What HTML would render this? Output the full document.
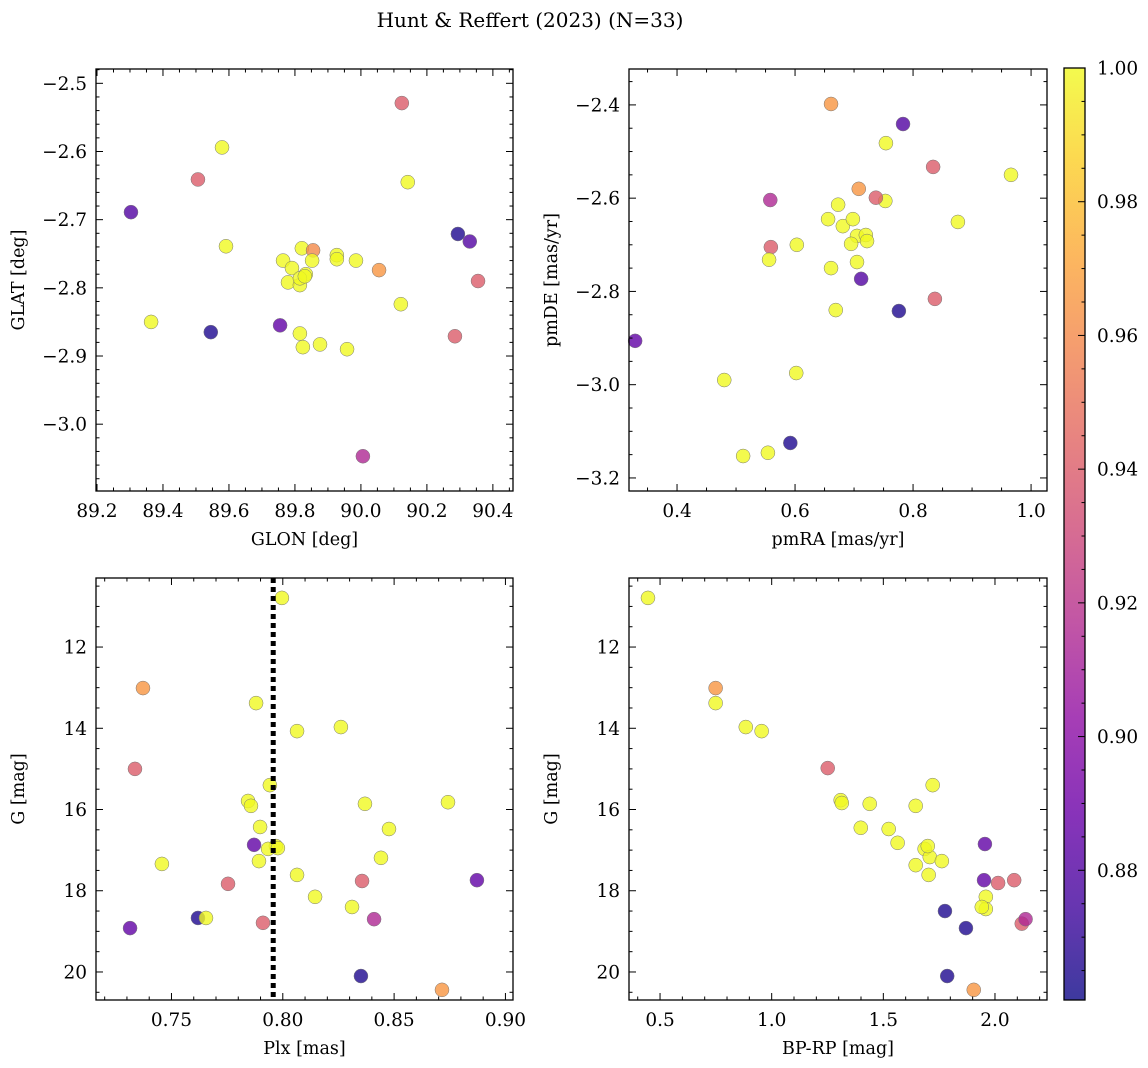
<!DOCTYPE html>
<html><head><meta charset="utf-8"><style>
html,body{margin:0;padding:0;background:#fff}
svg{display:block}
text{font-family:"DejaVu Serif","Liberation Serif",serif}
</style></head><body>
<svg id="fig" width="1148" height="1068" viewBox="0 0 1148 1068" xmlns="http://www.w3.org/2000/svg" font-family="DejaVu Serif, Liberation Serif, serif">
<defs>
<linearGradient id="cbg" x1="0" y1="1" x2="0" y2="0">
<stop offset="0" stop-color="#0d0887"/><stop offset="0.1" stop-color="#41049d"/><stop offset="0.2" stop-color="#6a00a8"/><stop offset="0.3" stop-color="#8f0da4"/><stop offset="0.4" stop-color="#b12a90"/><stop offset="0.5" stop-color="#cc4778"/><stop offset="0.6" stop-color="#e16462"/><stop offset="0.7" stop-color="#f2844b"/><stop offset="0.8" stop-color="#fca636"/><stop offset="0.9" stop-color="#fcce25"/><stop offset="1" stop-color="#f0f921"/>
</linearGradient>
</defs>
<text x="530" y="27" font-size="20" text-anchor="middle" font-family="DejaVu Serif, Liberation Serif, serif">Hunt &amp; Reffert (2023) (N=33)</text>
</svg>
<script>
// Panel A: GLON vs GLAT
const glon=[89.303,89.506,89.579,89.364,89.545,89.591,89.755,89.764,89.791,89.779,89.815,89.821,89.833,89.855,89.852,89.815,89.824,89.876,89.927,89.927,89.985,89.958,90.055,90.121,90.142,90.006,90.294,90.330,90.355,90.285,90.124,89.815,89.830];
const glat=[-2.689,-2.641,-2.594,-2.850,-2.865,-2.739,-2.855,-2.760,-2.771,-2.792,-2.796,-2.742,-2.780,-2.745,-2.760,-2.867,-2.887,-2.883,-2.752,-2.758,-2.760,-2.890,-2.774,-2.824,-2.645,-3.047,-2.721,-2.732,-2.790,-2.871,-2.529,-2.786,-2.783];
const probA=[0.88,0.94,1,1,0.865,1,0.885,1,1,1,1,1,1,0.96,1,1,1,1,1,1,1,1,0.965,1,1,0.915,0.865,0.88,0.94,0.94,0.94,1,1];
// Panel B: pmRA vs pmDE
const pmra=[0.661,0.783,0.754,0.966,0.834,0.708,0.753,0.737,0.673,0.558,0.656,0.681,0.698,0.705,0.720,0.722,0.705,0.603,0.559,0.661,0.876,0.712,0.556,0.669,0.776,0.837,0.329,0.480,0.602,0.592,0.512,0.554,0.695];
const pmde=[-2.398,-2.441,-2.482,-2.550,-2.533,-2.580,-2.606,-2.599,-2.614,-2.604,-2.645,-2.660,-2.645,-2.681,-2.679,-2.692,-2.737,-2.700,-2.705,-2.750,-2.651,-2.773,-2.732,-2.840,-2.842,-2.816,-2.906,-2.990,-2.975,-3.125,-3.153,-3.146,-2.698];
const probB=[0.965,0.88,1,1,0.94,0.965,1,0.94,1,0.915,1,1,1,1,1,1,1,1,0.94,1,1,0.88,1,1,0.865,0.94,0.885,1,1,0.865,1,1,1];
// Panel C: Plx vs G
const plx=[0.7996,0.7372,0.7880,0.8064,0.8261,0.7336,0.7942,0.7844,0.7857,0.8742,0.8369,0.7898,0.8477,0.7871,0.7969,0.7934,0.7893,0.7457,0.8441,0.8064,0.7754,0.8356,0.8872,0.8145,0.8311,0.7619,0.7655,0.8410,0.7911,0.7314,0.8351,0.8715,0.7978];
const gC=[10.79,13.01,13.38,14.07,13.97,15.00,15.40,15.79,15.91,15.82,15.86,16.43,16.48,16.87,16.90,16.97,17.27,17.34,17.19,17.61,17.83,17.76,17.74,18.15,18.40,18.67,18.67,18.70,18.79,18.92,20.10,20.44,16.95];
const probC=[1,0.965,1,1,1,0.94,1,1,1,1,1,1,1,0.885,1,1,1,1,1,1,0.94,0.94,0.885,1,1,0.865,1,0.915,0.94,0.885,0.865,0.965,1];
const plxRef=0.7957;
// Panel D: BP-RP vs G
const bprp=[0.446,0.749,0.749,0.884,0.955,1.251,1.309,1.314,1.439,1.399,1.524,1.564,1.645,1.721,1.685,1.708,1.762,1.645,1.699,1.703,1.955,1.951,2.014,2.086,1.959,1.959,1.941,2.12,2.137,1.87,1.776,1.905,1.786];
const gD=[10.79,13.01,13.38,13.97,14.07,14.98,15.77,15.84,15.86,16.45,16.48,16.82,15.91,15.40,16.97,17.17,17.27,17.37,16.90,17.61,16.85,17.74,17.81,17.74,18.15,18.45,18.40,18.81,18.70,18.92,18.50,20.44,20.10];
const probD=[1,0.965,1,1,1,0.94,1,1,1,1,1,1,1,1,1,1,1,1,1,1,0.885,0.885,0.94,0.94,1,1,1,0.94,0.915,0.865,0.865,0.965,0.865];
const cbTicks=[0.88,0.90,0.92,0.94,0.96,0.98,1.00];

const NS="http://www.w3.org/2000/svg";
const FONT="DejaVu Serif, Liberation Serif, serif";
const TFS=18.5;
const svg=document.getElementById('fig');
const VMIN=0.8606,VMAX=1.0;
const stops=["#0d0887","#41049d","#6a00a8","#8f0da4","#b12a90","#cc4778","#e16462","#f2844b","#fca636","#fcce25","#f0f921"];
function hex(h){return[parseInt(h.substr(1,2),16),parseInt(h.substr(3,2),16),parseInt(h.substr(5,2),16)];}
function cmap(v){let t=(v-VMIN)/(VMAX-VMIN);t=Math.max(0,Math.min(1,t));const s=t*10,i=Math.min(9,Math.floor(s)),f=s-i;const a=hex(stops[i]),b=hex(stops[i+1]);return 'rgb('+a.map((x,k)=>Math.round(x+(b[k]-x)*f)).join(',')+')';}
function mk(tag,attrs,parent){const e=document.createElementNS(NS,tag);for(const k in attrs)e.setAttribute(k,attrs[k]);if(tag==='text')e.setAttribute('font-family',FONT);(parent||svg).appendChild(e);return e;}
function fmt(v,d){const s=Math.abs(v).toFixed(d);return (v<-1e-9?'\u2212':'')+s;}

function panel(c){
  const g=mk('g',{});
  
  
  const X=v=>c.L+(v-c.x0)/(c.x1-c.x0)*(c.R-c.L);
  const Y=c.yrev? v=>c.T+(v-c.y0)/(c.y1-c.y0)*(c.B-c.T) : v=>c.B-(v-c.y0)/(c.y1-c.y0)*(c.B-c.T);
  const pg=mk('g',{},g);
  
  
  for(let i=0;i<c.xs.length;i++){
    const p=mk('circle',{cx:X(c.xs[i]),cy:Y(c.ys[i]),r:7,fill:cmap(c.ps[i]),'fill-opacity':0.8,stroke:'#777','stroke-width':0.5},pg);
    
    
  }
  if(c.vline!==undefined){
    const l=mk('line',{x1:X(c.vline),x2:X(c.vline),y1:c.T,y2:c.B,stroke:'#000','stroke-width':5,'stroke-dasharray':'5 4'},g);
    
    
  }
  const f=mk('rect',{x:c.L,y:c.T,width:c.R-c.L,height:c.B-c.T,fill:'none',stroke:'#000','stroke-width':1.3},g);
  
  
  const tk=mk('g',{stroke:'#000','stroke-width':1},g);
  const xs0=Math.ceil(c.x0/c.xmin-1e-6);
  for(let k=xs0;k*c.xmin<=c.x1+1e-9;k++){
    const v=k*c.xmin,px=X(v);
    const major=Math.abs(v/c.xmaj-Math.round(v/c.xmaj))<1e-6;
    const len=major?7:3.5;
    mk('line',{x1:px,x2:px,y1:c.B,y2:c.B-len},tk);
    mk('line',{x1:px,x2:px,y1:c.T,y2:c.T+len},tk);
    if(major){const t=mk('text',{x:px,y:c.B+26,'font-size':TFS,'text-anchor':'middle'},g);t.textContent=fmt(v,c.xd);
      }
  }
  const lo=Math.min(c.y0,c.y1),hi=Math.max(c.y0,c.y1);
  for(let k=Math.ceil(lo/c.ymin-1e-6);k*c.ymin<=hi+1e-9;k++){
    const v=k*c.ymin,py=Y(v);
    const major=Math.abs(v/c.ymaj-Math.round(v/c.ymaj))<1e-6;
    const len=major?7:3.5;
    mk('line',{x1:c.L,x2:c.L+len,y1:py,y2:py},tk);
    mk('line',{x1:c.R,x2:c.R-len,y1:py,y2:py},tk);
    if(major){const t=mk('text',{x:c.L-9,y:py+6.5,'font-size':TFS,'text-anchor':'end'},g);t.textContent=fmt(v,c.yd);
      }
  }
  const xl=mk('text',{x:(c.L+c.R)/2,y:c.B+54,'font-size':17.5,'text-anchor':'middle'},g);xl.textContent=c.xlab;
  
  const yx=c.L-72,yc=(c.T+c.B)/2;
  const yl=mk('text',{x:yx,y:yc,'font-size':17.5,'text-anchor':'middle',transform:'rotate(-90 '+yx+' '+yc+')'},g);yl.textContent=c.ylab;
  
}

panel({name:'glon-glat-panel',L:96,R:513,T:69,B:491,x0:89.197,x1:90.461,y0:-3.098,y1:-2.479,xmaj:0.2,xmin:0.05,ymaj:0.1,ymin:0.02,xd:1,yd:1,xs:glon,ys:glat,ps:probA,xlab:'GLON [deg]',ylab:'GLAT [deg]'});
panel({name:'pm-panel',L:629,R:1047,T:69,B:491,x0:0.3186,x1:1.027,y0:-3.228,y1:-2.323,xmaj:0.2,xmin:0.05,ymaj:0.2,ymin:0.05,xd:1,yd:1,xs:pmra,ys:pmde,ps:probB,xlab:'pmRA [mas/yr]',ylab:'pmDE [mas/yr]'});
panel({name:'plx-g-panel',L:96,R:513,T:578,B:1000,x0:0.7161,x1:0.9034,y0:10.30,y1:20.69,yrev:true,xmaj:0.05,xmin:0.01,ymaj:2,ymin:0.5,xd:2,yd:0,xs:plx,ys:gC,ps:probC,vline:plxRef,xlab:'Plx [mas]',ylab:'G [mag]'});
panel({name:'cmd-panel',L:629,R:1047,T:578,B:1000,x0:0.361,x1:2.233,y0:10.30,y1:20.69,yrev:true,xmaj:0.5,xmin:0.1,ymaj:2,ymin:0.5,xd:1,yd:0,xs:bprp,ys:gD,ps:probD,xlab:'BP-RP [mag]',ylab:'G [mag]'});

const cb=mk('g',{});


const cT=68,cB=1000,cL=1064,cR=1085;
mk('rect',{x:cL,y:cT,width:cR-cL,height:cB-cT,fill:'url(#cbg)','fill-opacity':0.8},cb);
mk('rect',{x:cL,y:cT,width:cR-cL,height:cB-cT,fill:'none',stroke:'#000','stroke-width':1.3},cb);
const CY=v=>cB-(v-VMIN)/(VMAX-VMIN)*(cB-cT);
for(let k=Math.ceil(VMIN/0.005);k*0.005<=VMAX+1e-9;k++){
  const v=k*0.005;const major=Math.abs(v/0.02-Math.round(v/0.02))<1e-6;
  mk('line',{x1:cR,x2:cR-(major?7:3.5),y1:CY(v),y2:CY(v),stroke:'#000','stroke-width':1},cb);
}
cbTicks.forEach(v=>{const t=mk('text',{x:cR+12,y:CY(v)+6.5,'font-size':TFS},cb);t.textContent=v.toFixed(2);
  });
</script>
</body></html>
